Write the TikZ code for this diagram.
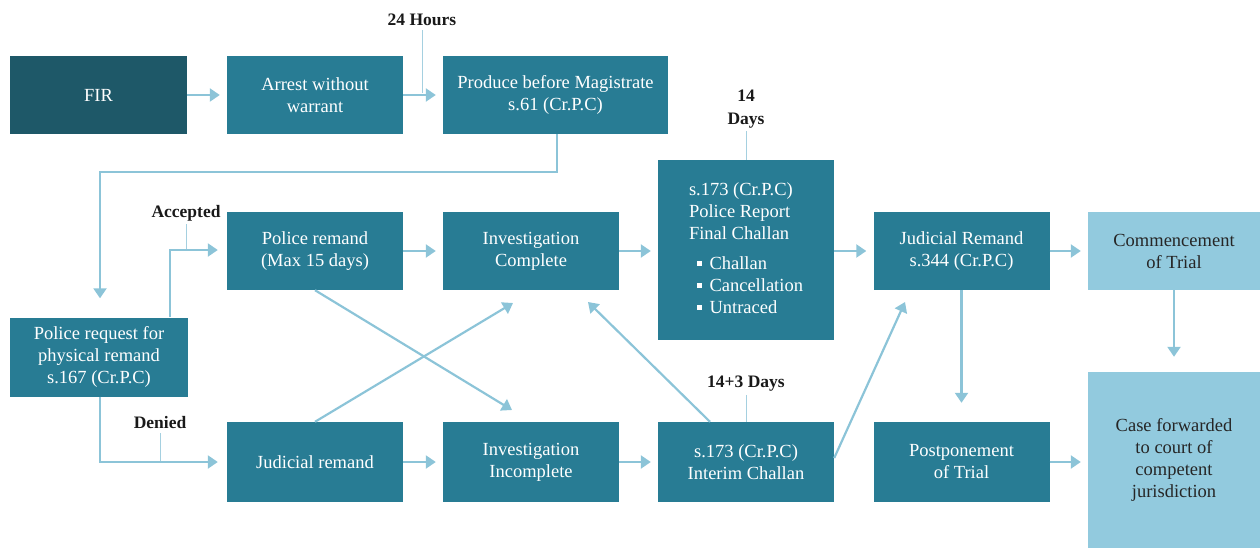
\documentclass[tikz,border=0pt]{standalone}
\usepackage{fontspec}
\setmainfont{Liberation Serif}
\usetikzlibrary{arrows.meta}

\definecolor{boxteal}{RGB}{40,124,148}
\definecolor{boxdark}{RGB}{30,88,104}
\definecolor{boxlight}{RGB}{146,202,222}
\definecolor{flow}{RGB}{140,196,216}
\definecolor{tickline}{RGB}{165,208,224}

\newcommand{\sqbullet}{\hspace{8pt}\raisebox{3.5pt}{\rule{4.5pt}{4.5pt}}\hspace{8pt}}

\tikzset{
  stage/.style={fill=boxteal, text=white, align=center, inner sep=0pt,
    font=\fontsize{18.5}{22}\selectfont, minimum width=176pt, minimum height=78pt},
  startbox/.style={stage, fill=boxdark},
  outcome/.style={stage, fill=boxlight, text=black!85, minimum width=172pt},
  flowarrow/.style={draw=flow, line width=2.2pt,
    -{Triangle[length=10pt,width=13pt]}},
  tickmark/.style={draw=tickline, line width=1pt},
  timelabel/.style={font=\fontsize{17.5}{23}\selectfont\bfseries, text=black!90, align=center, inner sep=0pt}
}

\begin{document}
\begin{tikzpicture}[x=1pt,y=-1pt]
\useasboundingbox (0,0) rectangle (1260,548);

% --- first row
\node[startbox, minimum width=177pt] (fir) at (98.5,95) {FIR};
\node[stage] (arrest) at (315,95) {Arrest without\\warrant};
\node[stage, minimum width=225pt] (produce) at (555.5,95) {Produce before Magistrate\\s.61 (Cr.P.C)};

% --- remand request
\node[stage, minimum width=178pt, minimum height=79pt] (request) at (99,357) {Police request for\\physical remand\\s.167 (Cr.P.C)};

% --- second row
\node[stage] (policeremand) at (315,251) {Police remand\\(Max 15 days)};
\node[stage] (invcomplete) at (531,251) {Investigation\\Complete};
\node[stage, minimum height=179pt] (finalchallan) at (746,250) {%
  \begin{tabular}{@{}l@{}}
  s.173 (Cr.P.C)\\Police Report\\Final Challan\\[8pt]
  \sqbullet Challan\\
  \sqbullet Cancellation\\
  \sqbullet Untraced
  \end{tabular}};
\node[stage] (judicialRemand) at (961.5,251) {Judicial Remand\\s.344 (Cr.P.C)};
\node[outcome] (commencement) at (1174,251) {Commencement\\of Trial};

% --- third row
\node[stage, minimum height=80pt] (judicialremand) at (315,462) {Judicial remand};
\node[stage, minimum height=80pt] (invincomplete) at (531,462) {Investigation\\Incomplete};
\node[stage, minimum height=80pt] (interim) at (746,462) {s.173 (Cr.P.C)\\Interim Challan};
\node[stage, minimum height=80pt] (postponement) at (961.5,462) {Postponement\\of Trial};
\node[outcome, minimum height=176pt] (forwarded) at (1174,460) {Case forwarded\\to court of\\competent\\jurisdiction};

% --- time labels
\node[timelabel] (h24) at (422,20) {24 Hours};
\node[timelabel] (d14) at (746,109) {14\\Days};
\node[timelabel] (d17) at (746,384) {14+3 Days};
\node[timelabel] (accepted) at (186,213) {Accepted};
\node[timelabel] (denied) at (160,423) {Denied};

% --- helper points for the bent connectors
\coordinate (bendA) at (557,172);
\coordinate (bendB) at (100,172);
\coordinate (accUp) at (170,250);
\coordinate (denDown) at (100,462);

% --- ticks from the labels to the connectors
\draw[tickmark] (h24.south -| 422,0) ++(0,4) -- (422,93);
\draw[tickmark] (d14.south) ++(0,3) -- (finalchallan.north);
\draw[tickmark] (d17.south) ++(0,3) -- (interim.north);
\draw[tickmark] (accepted.south) ++(0,3) -- (186,250);
\draw[tickmark] (denied.south) ++(0,4) -- (160,462);

% --- straight connectors
\draw[flowarrow] (fir.east) -- ([xshift=-7pt]arrest.west);
\draw[flowarrow] (arrest.east) -- ([xshift=-7pt]produce.west);
\draw[flowarrow] (policeremand.east) -- ([xshift=-7pt]invcomplete.west);
\draw[flowarrow] (invcomplete.east) -- ([xshift=-7pt]finalchallan.west |- invcomplete.east);
\draw[flowarrow] (finalchallan.east |- judicialRemand.west) -- ([xshift=-7pt]judicialRemand.west);
\draw[flowarrow] (judicialRemand.east) -- ([xshift=-7pt]commencement.west);
\draw[flowarrow] (judicialremand.east) -- ([xshift=-7pt]invincomplete.west);
\draw[flowarrow] (invincomplete.east) -- ([xshift=-7pt]interim.west);
\draw[flowarrow] (postponement.east) -- ([xshift=-7pt]forwarded.west |- postponement.east);
\draw[flowarrow] (commencement.south) -- ([yshift=15pt]forwarded.north);
\draw[flowarrow] (judicialRemand.south) -- ([yshift=19pt]postponement.north);

% --- bent connectors
\draw[flowarrow] (produce.south -| bendA) -- (bendA) -- (bendB) -- ([yshift=19pt]request.north -| bendB);
\draw[flowarrow] (request.north -| accUp) -- (accUp) -- ([xshift=-9pt]policeremand.west |- accUp);
\draw[flowarrow] (request.south -| denDown) -- (denDown) -- ([xshift=-9pt]judicialremand.west |- denDown);

% --- diagonal connectors
\coordinate (tipA) at (512,410);
\coordinate (tipB) at (513,303);
\coordinate (tipC) at (588,302);
\coordinate (tipD) at (905,302);
\draw[flowarrow] (policeremand.south) -- (tipA);
\draw[flowarrow] (judicialremand.north) -- (tipB);
\draw[flowarrow] (interim.north -| 710,0) -- (tipC);
\draw[flowarrow] (interim.east |- 0,458) -- (tipD);
\end{tikzpicture}
\end{document}
